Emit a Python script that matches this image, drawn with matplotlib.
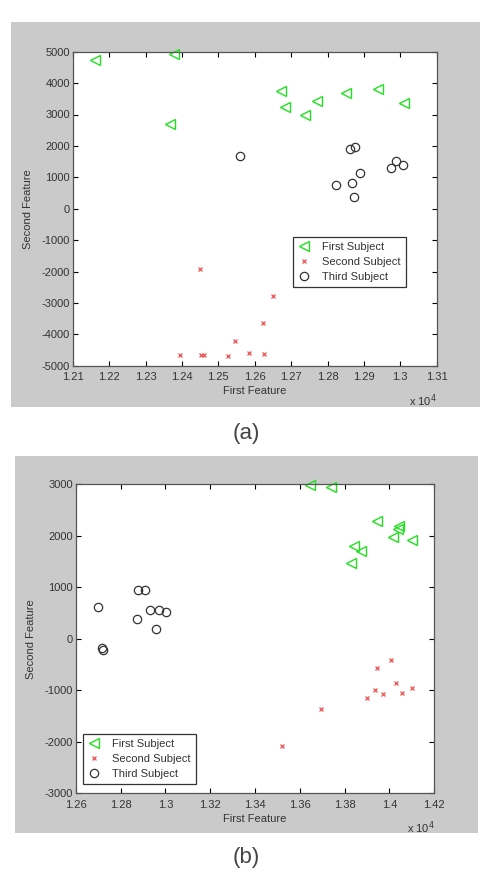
import numpy as np
import matplotlib.pyplot as plt
from matplotlib.patches import Rectangle
from matplotlib.ticker import FuncFormatter, MultipleLocator

plt.rcParams['font.family'] = ['Liberation Sans', 'DejaVu Sans']
plt.rcParams['axes.unicode_minus'] = False

# panel (a) data
a_first_x = [12161, 12377, 12368, 12671, 12684, 12739, 12772, 12852, 12940, 13011]
a_first_y = [4724, 4915, 2686, 3747, 3238, 2994, 3418, 3673, 3800, 3355]
a_second_x = [12449, 12650, 12622, 12546, 12394, 12452, 12462, 12528, 12585, 12625]
a_second_y = [-1932, -2771, -3652, -4204, -4650, -4650, -4650, -4682, -4586, -4618]
a_third_x = [12560, 12862, 12875, 12823, 12867, 12874, 12890, 12975, 12987, 13008]
a_third_y = [1688, 1890, 1964, 754, 817, 372, 1136, 1285, 1507, 1401]

# panel (b) data
b_first_x = [13644, 13738, 13943, 14042, 14036, 14017, 14100, 13842, 13873, 13828]
b_first_y = [2994, 2955, 2295, 2200, 2131, 1984, 1926, 1803, 1706, 1479]
b_second_x = [13522, 13694, 13901, 13935, 13970, 13943, 14008, 14028, 14056, 14102]
b_second_y = [-2087, -1369, -1155, -993, -1071, -566, -405, -864, -1045, -961]
b_third_x = [12698, 12717, 12724, 12878, 12909, 12872, 12933, 12971, 13001, 12957]
b_third_y = [625, -172, -217, 942, 942, 379, 560, 560, 521, 184]

labels = ['First Subject', 'Second Subject', 'Third Subject']

W, H = 484, 883
fig = plt.figure(figsize=(W / 100, H / 100), dpi=100)
fig.patch.set_facecolor('white')


def px_rect(x0, y0, x1, y1):
    # pixel box (top-left origin) -> figure fraction [l, b, w, h]
    return [x0 / W, 1 - y1 / H, (x1 - x0) / W, (y1 - y0) / H]


def gray_panel(x0, y0, x1, y1):
    l, b, w, h = px_rect(x0, y0, x1, y1)
    fig.patches.append(Rectangle((l, b), w, h, transform=fig.transFigure,
                                 facecolor='#cacaca', edgecolor='none', zorder=-10))


def draw_panel(box, fx, fy, sx, sy, tx, ty, xlim, ylim, xstep, ystep, leg_loc, leg_anchor):
    ax = fig.add_axes(px_rect(*box))
    ax.set_zorder(5)
    ax.plot(fx, fy, linestyle='none', marker='<', markersize=6.5, markerfacecolor='none',
            markeredgecolor='#22e022', markeredgewidth=1.0, label=labels[0], clip_on=False)
    ax.plot(sx, sy, linestyle='none', marker='x', markersize=3.2,
            color='#f06060', markeredgewidth=1.0, label=labels[1])
    ax.plot(tx, ty, linestyle='none', marker='o', markersize=6, markerfacecolor='none',
            markeredgecolor='#333333', markeredgewidth=0.9, label=labels[2])
    ax.set_xlim(*xlim)
    ax.set_ylim(*ylim)
    ax.xaxis.set_major_locator(MultipleLocator(xstep))
    ax.yaxis.set_major_locator(MultipleLocator(ystep))
    ax.xaxis.set_major_formatter(FuncFormatter(lambda v, p: f'{v / 1e4:g}'))
    ax.yaxis.set_major_formatter(FuncFormatter(lambda v, p: f'{int(round(v))}'))
    ax.tick_params(direction='in', top=True, right=True, length=3.5, width=0.8,
                   labelsize=8, labelcolor='#333333', pad=2)
    ax.tick_params(axis='x', pad=4.5)
    for s in ax.spines.values():
        s.set_color('#555555')
        s.set_linewidth(0.9)
    ax.set_xlabel('First Feature', fontsize=8, color='#333333', labelpad=3)
    ax.set_ylabel('Second Feature', fontsize=8, color='#333333', labelpad=6)
    ax.text(1.0, -0.085, r'x 10$^4$', transform=ax.transAxes, ha='right', va='top',
            fontsize=8, color='#333333')
    leg = ax.legend(loc=leg_loc, bbox_to_anchor=leg_anchor, borderaxespad=0,
                    fancybox=False, framealpha=1, edgecolor='#333333', fontsize=8,
                    handlelength=1.2, handletextpad=1.0, borderpad=0.45,
                    labelspacing=0.45)
    leg.get_frame().set_linewidth(0.9)
    for t in leg.get_texts():
        t.set_color('#333333')
    return ax


# panel (a)
gray_panel(11, 22, 480, 407)
draw_panel((72.7, 51.7, 436.7, 365.7), a_first_x, a_first_y, a_second_x, a_second_y,
           a_third_x, a_third_y, (12100, 13100), (-5000, 5000), 100, 1000,
           'upper left', (0.604, 0.409))
fig.text(246.7 / W, 1 - 433 / H, '(a)', ha='center', va='center', fontsize=16, color='#444444')

# panel (b)
gray_panel(15, 456, 478, 833)
draw_panel((75.7, 484.3, 434.3, 793.3), b_first_x, b_first_y, b_second_x, b_second_y,
           b_third_x, b_third_y, (12600, 14200), (-3000, 3000), 200, 1000,
           'lower left', (0.0195, 0.029))
fig.text(246.7 / W, 1 - 857 / H, '(b)', ha='center', va='center', fontsize=16, color='#444444')

fig.savefig('out.png', dpi=100)
